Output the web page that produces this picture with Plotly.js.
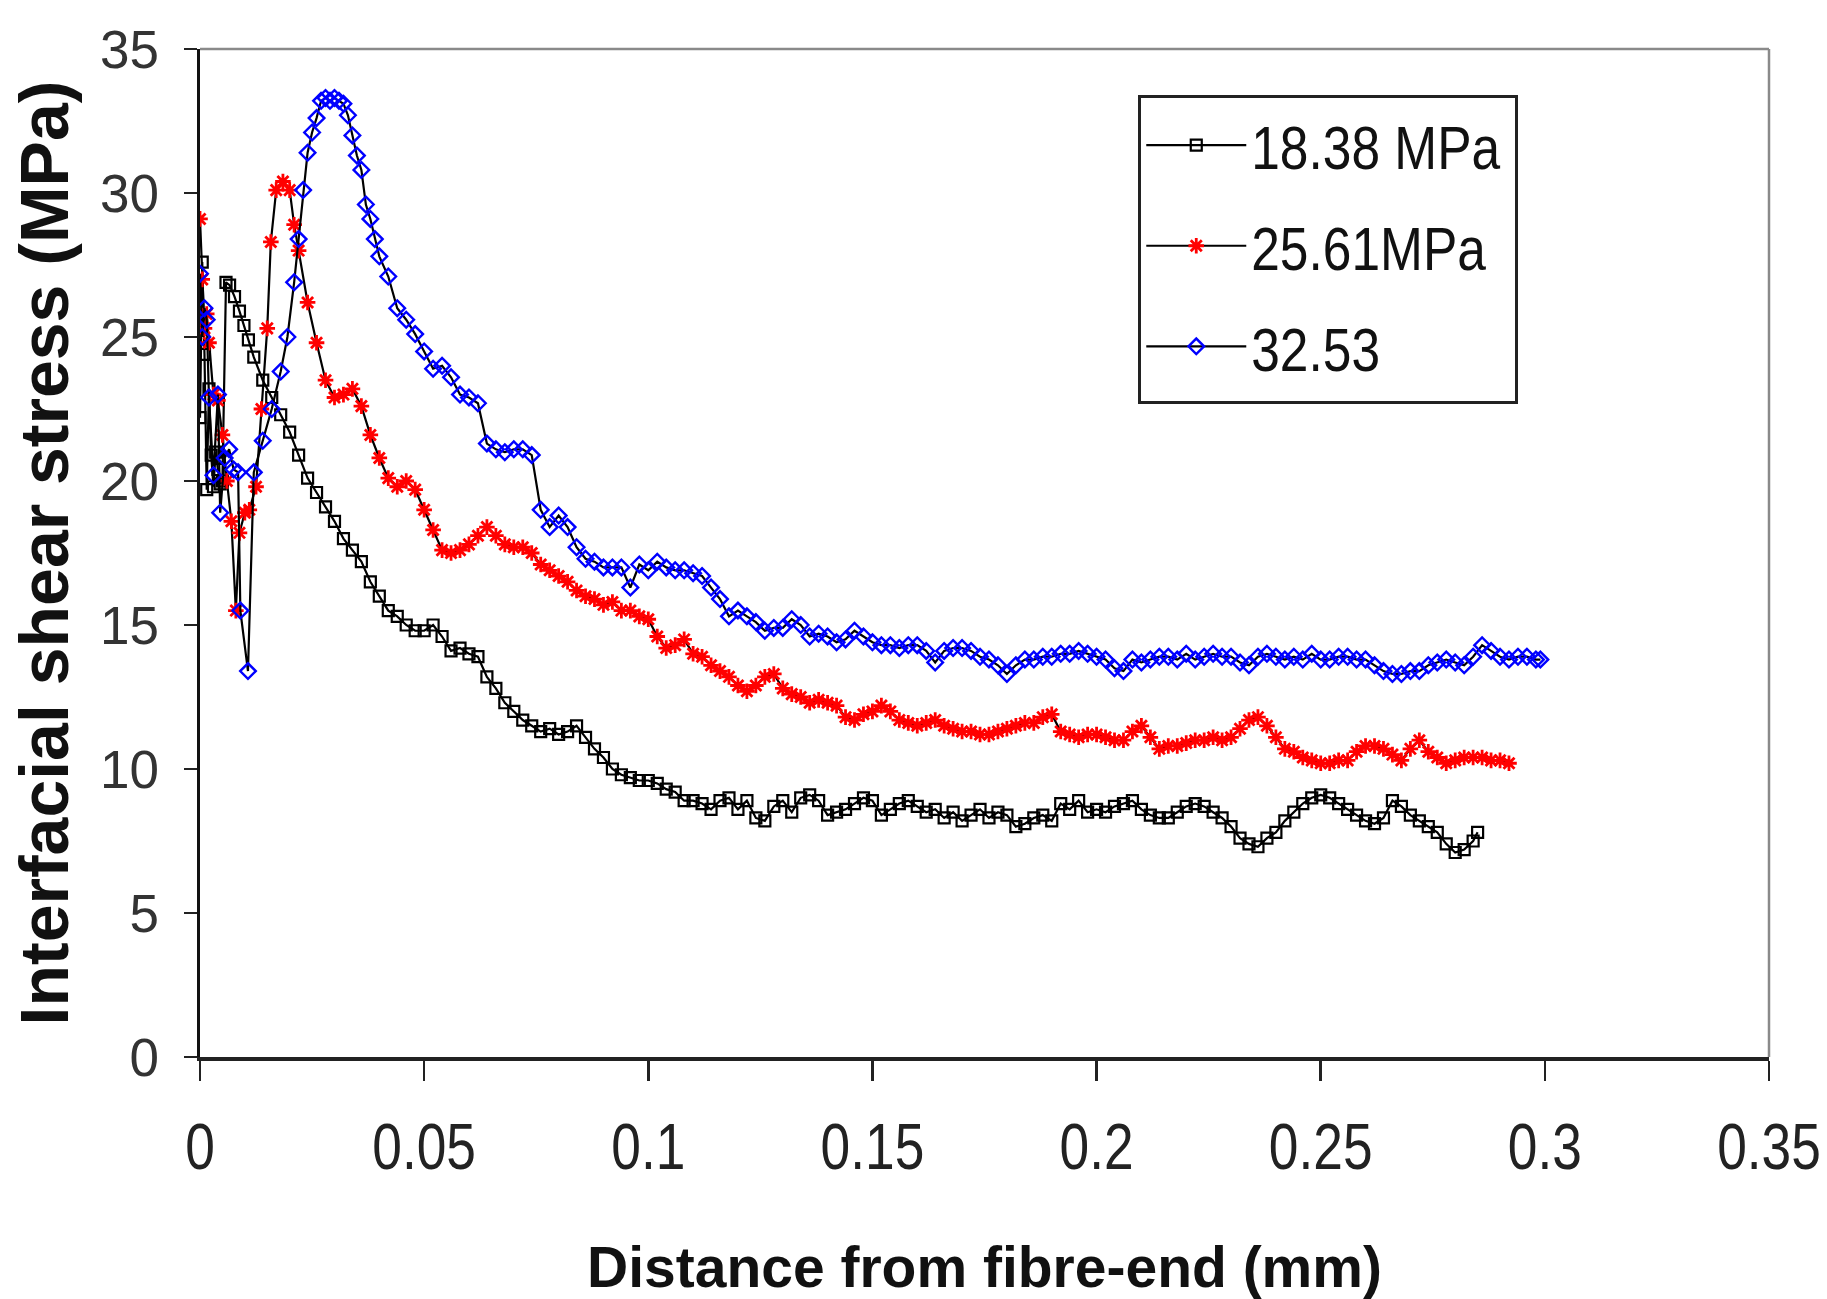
<!DOCTYPE html>
<html>
<head>
<meta charset="utf-8">
<script src="https://cdn.plot.ly/plotly-3.0.1.min.js"></script>
<style>html,body{margin:0;padding:0;background:#fff;}#chart{width:1827px;height:1299px;}</style>
</head>
<body>
<div id="chart"></div>
<script>
// ---------- data ----------
const seriesNames = ["18.38 MPa", "25.61MPa", "32.53"];

const blackX = [0,0.0005,0.001,0.0015,0.002,0.0025,0.003,0.0035,0.004,0.0045,0.005,0.0058,0.0066,0.0077,0.0088,0.0098,0.0108,
  0.012,0.014,0.016,0.018,0.020,0.022,0.024,0.026,0.028,0.030,
  0.032,0.034,0.036,0.038,0.040,0.042,0.044,0.046,0.048,0.050,
  0.052,0.054,0.056,0.058,0.060,0.062,0.064,0.066,0.068,0.070,
  0.072,0.074,0.076,0.078,0.080,0.082,0.084,0.086,0.088,0.090,
  0.092,0.094,0.096,0.098,0.100,0.102,0.104,0.106,0.108,0.110,
  0.112,0.114,0.116,0.118,0.120,0.122,0.124,0.126,0.128,0.130,
  0.132,0.134,0.136,0.138,0.140,0.142,0.144,0.146,0.148,0.150,
  0.152,0.154,0.156,0.158,0.160,0.162,0.164,0.166,0.168,0.170,
  0.172,0.174,0.176,0.178,0.180,0.182,0.184,0.186,0.188,0.190,
  0.192,0.194,0.196,0.198,0.200,0.202,0.204,0.206,0.208,0.210,
  0.212,0.214,0.216,0.218,0.220,0.222,0.224,0.226,0.228,0.230,
  0.232,0.234,0.236,0.238,0.240,0.242,0.244,0.246,0.248,0.250,
  0.252,0.254,0.256,0.258,0.260,0.262,0.264,0.266,0.268,0.270,
  0.272,0.274,0.276,0.278,0.280,0.282,0.284,0.285];
const blackY = [22.2,27.6,24.4,19.7,23.2,20.9,19.8,21.0,20.4,19.9,20.0,26.9,26.8,26.4,25.9,25.4,24.9,
  24.3,23.5,22.9,22.3,21.7,20.9,20.1,19.6,19.1,18.6,
  18.0,17.6,17.2,16.5,16.0,15.5,15.3,15.0,14.8,14.8,
  15.0,14.6,14.1,14.2,14.0,13.9,13.2,12.8,12.3,12.0,
  11.7,11.5,11.3,11.4,11.2,11.3,11.5,11.1,10.7,10.4,
  10.0,9.8,9.7,9.6,9.6,9.5,9.3,9.2,8.9,8.9,
  8.8,8.6,8.9,9.0,8.6,8.9,8.3,8.2,8.7,8.9,
  8.5,9.0,9.1,8.9,8.4,8.5,8.6,8.8,9.0,8.9,
  8.4,8.6,8.8,8.9,8.7,8.5,8.6,8.3,8.5,8.2,
  8.4,8.6,8.3,8.5,8.4,8.0,8.1,8.3,8.4,8.2,
  8.8,8.6,8.9,8.5,8.6,8.5,8.7,8.8,8.9,8.6,
  8.4,8.3,8.3,8.5,8.7,8.8,8.7,8.5,8.3,8.0,
  7.6,7.4,7.3,7.6,7.8,8.2,8.5,8.8,9.0,9.1,
  9.0,8.8,8.6,8.4,8.2,8.1,8.3,8.9,8.7,8.4,
  8.2,8.0,7.8,7.4,7.1,7.2,7.5,7.8];

const redX = [0,0.0005,0.001,0.0015,0.002,0.003,0.004,0.005,0.006,0.007,0.008,0.0088,0.010,0.011,0.0125,0.0137,0.015,0.0158,0.017,0.0185,0.020,0.021,0.022,
  0.024,0.026,0.028,0.030,0.032,0.034,0.036,0.038,0.040,0.042,
  0.044,0.046,0.048,0.050,0.052,0.054,0.056,0.058,0.060,0.062,
  0.064,0.066,0.068,0.070,0.072,0.074,0.076,0.078,0.080,0.082,
  0.084,0.086,0.088,0.090,0.092,0.094,0.096,0.098,0.100,0.102,
  0.104,0.106,0.108,0.110,0.112,0.114,0.116,0.118,0.120,0.122,
  0.124,0.126,0.128,0.130,0.132,0.134,0.136,0.138,0.140,0.142,
  0.144,0.146,0.148,0.150,0.152,0.154,0.156,0.158,0.160,0.162,
  0.164,0.166,0.168,0.170,0.172,0.174,0.176,0.178,0.180,0.182,
  0.184,0.186,0.188,0.190,0.192,0.194,0.196,0.198,0.200,0.202,
  0.204,0.206,0.208,0.210,0.212,0.214,0.216,0.218,0.220,0.222,
  0.224,0.226,0.228,0.230,0.232,0.234,0.236,0.238,0.240,0.242,
  0.244,0.246,0.248,0.250,0.252,0.254,0.256,0.258,0.260,0.262,
  0.264,0.266,0.268,0.270,0.272,0.274,0.276,0.278,0.280,0.282,
  0.284,0.286,0.288,0.290,0.292];
const redY = [29.1,27.0,25.3,25.8,24.8,23.0,22.8,21.6,20.0,18.6,15.5,18.2,18.9,19.0,19.8,22.5,25.3,28.3,30.1,30.4,30.1,28.9,28.0,
  26.2,24.8,23.5,22.9,23.0,23.2,22.6,21.6,20.8,20.1,
  19.8,20.0,19.7,19.0,18.3,17.6,17.5,17.6,17.8,18.1,
  18.4,18.1,17.8,17.7,17.7,17.5,17.1,16.9,16.7,16.5,
  16.2,16.0,15.9,15.7,15.8,15.5,15.5,15.3,15.2,14.6,
  14.2,14.3,14.5,14.0,13.9,13.6,13.4,13.2,12.9,12.7,
  12.9,13.2,13.3,12.8,12.6,12.5,12.3,12.4,12.3,12.2,
  11.8,11.7,11.9,12.0,12.2,12.0,11.7,11.6,11.5,11.6,
  11.7,11.5,11.4,11.3,11.3,11.2,11.2,11.3,11.4,11.5,
  11.6,11.6,11.8,11.9,11.3,11.2,11.1,11.2,11.2,11.1,
  11.0,11.0,11.3,11.5,11.1,10.7,10.8,10.8,10.9,11.0,
  11.0,11.1,11.0,11.1,11.4,11.7,11.8,11.5,11.1,10.7,
  10.6,10.4,10.3,10.2,10.2,10.3,10.3,10.6,10.8,10.8,
  10.7,10.5,10.3,10.7,11.0,10.6,10.4,10.2,10.3,10.4,
  10.4,10.4,10.3,10.3,10.2];

const blueX = [0,0.0005,0.001,0.0015,0.002,0.003,0.004,0.0045,0.0055,0.0065,0.0075,0.0085,0.009,0.0107,0.012,0.014,0.016,0.018,0.0195,0.021,
  0.022,0.023,0.024,0.025,0.026,0.027,0.028,0.029,0.030,0.031,0.032,0.033,0.034,0.035,0.036,0.037,0.038,0.039,0.040,
  0.042,0.044,0.046,0.048,0.050,0.052,0.054,0.056,0.058,0.060,
  0.062,0.064,0.066,0.068,0.070,0.072,0.074,0.076,0.078,0.080,
  0.082,0.084,0.086,0.088,0.090,0.092,0.094,0.096,0.098,0.100,
  0.102,0.104,0.106,0.108,0.110,0.112,0.114,0.116,0.118,0.120,
  0.122,0.124,0.126,0.128,0.130,0.132,0.134,0.136,0.138,0.140,
  0.142,0.144,0.146,0.148,0.150,0.152,0.154,0.156,0.158,0.160,
  0.162,0.164,0.166,0.168,0.170,0.172,0.174,0.176,0.178,0.180,
  0.182,0.184,0.186,0.188,0.190,0.192,0.194,0.196,0.198,0.200,
  0.202,0.204,0.206,0.208,0.210,0.212,0.214,0.216,0.218,0.220,
  0.222,0.224,0.226,0.228,0.230,0.232,0.234,0.236,0.238,0.240,
  0.242,0.244,0.246,0.248,0.250,0.252,0.254,0.256,0.258,0.260,
  0.262,0.264,0.266,0.268,0.270,0.272,0.274,0.276,0.278,0.280,
  0.282,0.284,0.286,0.288,0.290,0.292,0.294,0.296,0.298,0.299];
const blueY = [27.2,25.0,26.0,25.6,22.9,20.2,23.0,18.9,20.8,21.1,20.4,20.3,15.5,13.4,20.3,21.4,22.5,23.8,25.0,26.9,
  28.4,30.1,31.4,32.1,32.6,33.2,33.3,33.2,33.3,33.2,33.1,32.7,32.0,31.3,30.8,29.6,29.1,28.4,27.8,
  27.1,26.0,25.6,25.1,24.5,23.9,24.0,23.6,23.0,22.9,
  22.7,21.3,21.1,21.0,21.1,21.1,20.9,19.0,18.4,18.8,
  18.4,17.7,17.3,17.2,17.0,17.0,17.0,16.3,17.1,16.9,
  17.2,17.0,16.9,16.9,16.8,16.7,16.3,15.9,15.3,15.5,
  15.3,15.1,14.8,14.9,14.9,15.2,15.0,14.6,14.7,14.6,
  14.4,14.5,14.8,14.6,14.4,14.3,14.3,14.2,14.3,14.3,
  14.1,13.7,14.1,14.2,14.2,14.1,13.9,13.8,13.6,13.3,
  13.6,13.8,13.8,13.9,13.9,14.0,14.0,14.1,14.0,13.9,
  13.8,13.5,13.4,13.8,13.7,13.8,13.9,13.9,13.8,14.0,
  13.8,13.9,14.0,13.9,13.9,13.7,13.6,13.9,14.0,13.9,
  13.8,13.9,13.8,14.0,13.8,13.8,13.9,13.9,13.8,13.8,
  13.6,13.4,13.3,13.3,13.4,13.4,13.6,13.7,13.8,13.7,
  13.6,13.9,14.3,14.1,13.9,13.8,13.9,13.9,13.8,13.8];

const xTickVals = [0,0.05,0.1,0.15,0.2,0.25,0.3,0.35];
const xTickText = ["0","0.05","0.1","0.15","0.2","0.25","0.3","0.35"];
const yTickVals = [0,5,10,15,20,25,30,35];
const yTickText = ["0","5","10","15","20","25","30","35"];

// ---------- traces ----------
const ARIAL = "'Liberation Sans', Arial, sans-serif";

const traces = [
  {x: blackX, y: blackY, name: seriesNames[0], legendgroup: "a", type: "scatter", mode: "lines+markers",
   line: {color: "#000000", width: 2.2},
   marker: {symbol: "square-open", size: 11, color: "#000000", line: {color: "#000000", width: 2.2}}},
  {x: redX, y: redY, name: seriesNames[1], legendgroup: "b", type: "scatter", mode: "lines+markers",
   line: {color: "#000000", width: 2.2},
   marker: {symbol: "asterisk-open", size: 13, color: "#ff0000", line: {color: "#ff0000", width: 2.8}}},
  {x: blueX, y: blueY, name: seriesNames[2], legendgroup: "c", type: "scatter", mode: "lines+markers",
   line: {color: "#000000", width: 2.2},
   marker: {symbol: "diamond-open", size: 12, color: "#0000ff", line: {color: "#0000ff", width: 2.4}}}
];

const layout = {
  width: 1827, height: 1299,
  margin: {l: 200, r: 58, t: 49, b: 242},
  paper_bgcolor: "#ffffff", plot_bgcolor: "#ffffff",
  showlegend: true,
  xaxis: {
    range: [0, 0.35], tickmode: "array", tickvals: xTickVals, ticktext: xTickText,
    ticks: "outside", ticklen: 20, tickwidth: 2.5, tickcolor: "#222",
    showline: true, linecolor: "#222", linewidth: 3.5,
    showgrid: false, zeroline: false, fixedrange: true,
    tickfont: {family: ARIAL, size: 65, color: "#222"},
    ticklabelstandoff: 11, ticklabeloverflow: "allow",
    title: {text: "Distance from fibre-end (mm)", font: {family: ARIAL, size: 57, color: "#111", weight: 700}, standoff: 77}
  },
  yaxis: {
    range: [0, 35], tickmode: "array", tickvals: yTickVals, ticktext: yTickText,
    ticks: "outside", ticklen: 13, tickwidth: 2.5, tickcolor: "#222",
    showline: true, linecolor: "#111", linewidth: 3.5,
    showgrid: false, zeroline: false, fixedrange: true,
    tickfont: {family: ARIAL, size: 53, color: "#333"},
    ticklabelstandoff: 14, ticklabeloverflow: "allow",
    title: {text: "Interfacial shear stress (MPa)", font: {family: ARIAL, size: 68, color: "#111", weight: 700}, standoff: 10}
  },
  legend: {
    x: 0.598, y: 0.954, xanchor: "left", yanchor: "top",
    bgcolor: "#ffffff", bordercolor: "#222", borderwidth: 3,
    font: {family: ARIAL, size: 62, color: "#111"},
    traceorder: "grouped", tracegroupgap: 17, itemwidth: 100
  },
  shapes: [
    {type: "line", xref: "paper", yref: "paper", x0: 0, x1: 1, y0: 1, y1: 1, line: {color: "#8a8a8a", width: 2.5}},
    {type: "line", xref: "paper", yref: "paper", x0: 1, x1: 1, y0: 0, y1: 1, line: {color: "#8a8a8a", width: 2.5}}
  ]
};

// the reference uses a condensed face for the x tick labels and the legend; none is installed,
// so the rendered text is compressed horizontally about its own anchor.
function condense(el, sx) {
  const ax = parseFloat(el.getAttribute("x")) || 0;
  const tr = el.getAttribute("transform") || "";
  el.setAttribute("transform", tr + " translate(" + ax + ",0) scale(" + sx + ",1) translate(" + (-ax) + ",0)");
}

Plotly.newPlot("chart", traces, layout, {displayModeBar: false, staticPlot: true}).then(function (gd) {
  gd.querySelectorAll(".xtick text").forEach(function (t) { condense(t, 0.82); });
  gd.querySelectorAll(".legendtext").forEach(function (t) { condense(t, 0.83); });
  const bg = gd.querySelector(".legend .bg");
  if (bg) { bg.setAttribute("width", 377); bg.setAttribute("height", 306); }
});
</script>
</body>
</html>
